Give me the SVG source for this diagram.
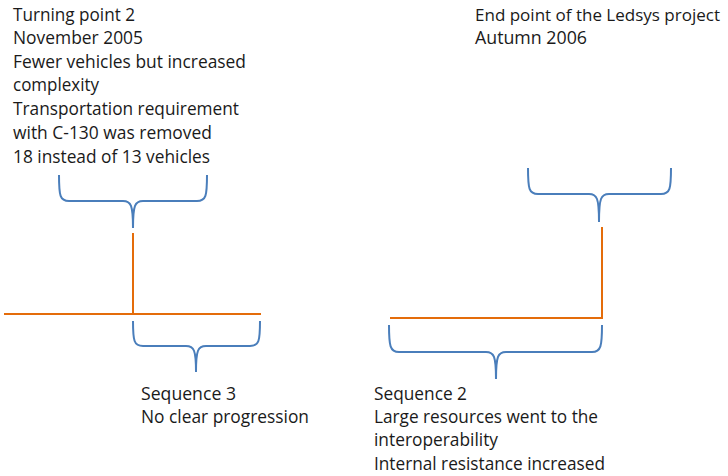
<svg xmlns="http://www.w3.org/2000/svg" width="728" height="476" viewBox="0 0 728 476">
<style>
text{font-family:"Open Sans",Lato,"Liberation Sans",sans-serif;font-size:18.5px;fill:#1a1a1a}
.brace{fill:none;stroke:#4a7ebb;stroke-width:2}
.line{fill:none;stroke:#e46c0a;stroke-width:2}
</style>
<rect width="728" height="476" fill="#ffffff"/>
<g id="label-turning-point-2">
<text x="13" y="21" textLength="122" lengthAdjust="spacingAndGlyphs">Turning point 2</text>
<text x="13" y="44" textLength="130" lengthAdjust="spacingAndGlyphs">November 2005</text>
<text x="13" y="68" textLength="233" lengthAdjust="spacingAndGlyphs">Fewer vehicles but increased</text>
<text x="13" y="91" textLength="86" lengthAdjust="spacingAndGlyphs">complexity</text>
<text x="13" y="115" textLength="226" lengthAdjust="spacingAndGlyphs">Transportation requirement</text>
<text x="13" y="139" textLength="199" lengthAdjust="spacingAndGlyphs">with C-130 was removed</text>
<text x="13" y="163" textLength="197" lengthAdjust="spacingAndGlyphs">18 instead of 13 vehicles</text>
</g>
<g id="label-end-point">
<text x="475" y="21" font-size="15.5" textLength="245" lengthAdjust="spacingAndGlyphs" style="font-size:15.5px">End point of the Ledsys project</text>
<text x="475" y="44" textLength="112" lengthAdjust="spacingAndGlyphs">Autumn 2006</text>
</g>
<g id="label-sequence-3">
<text x="141" y="400" textLength="95" lengthAdjust="spacingAndGlyphs">Sequence 3</text>
<text x="141" y="423" textLength="168" lengthAdjust="spacingAndGlyphs">No clear progression</text>
</g>
<g id="label-sequence-2">
<text x="374" y="400" textLength="93" lengthAdjust="spacingAndGlyphs">Sequence 2</text>
<text x="374" y="423" textLength="224" lengthAdjust="spacingAndGlyphs">Large resources went to the</text>
<text x="374" y="446" textLength="124" lengthAdjust="spacingAndGlyphs">interoperability</text>
<text x="374" y="470" textLength="231" lengthAdjust="spacingAndGlyphs">Internal resistance increased</text>
</g>
<g id="brace-turning-point-2">
<path class="brace" d="M59,175 C59,196 60,201 69,201 H123 C131,201 133,205 133,228 C133,205 135,201 143,201 H197 C206,201 207,196 207,175"/>
</g>
<g id="brace-end-point">
<path class="brace" d="M528,168 C528,189 529,194 538,194 H589 C597,194 599,198 599,222 C599,198 601,194 609,194 H661 C670,194 671,189 671,168"/>
</g>
<g id="brace-sequence-3">
<path class="brace" d="M133,321 C133,341 134,346 143,346 H186 C194,346 196,350 196,372 C196,350 198,346 206,346 H250 C259,346 260,341 260,321"/>
</g>
<g id="brace-sequence-2">
<path class="brace" d="M389,325 C389,346 390,352 399,352 H486 C494,352 496,356 496,379 C496,356 498,352 506,352 H592 C601,352 602,346 602,325"/>
</g>
<g id="connectors">
<path class="line" d="M133,233 V314"/>
<path class="line" d="M4,314 H261"/>
<path class="line" d="M602,227 V318 H390"/>
</g>
</svg>
